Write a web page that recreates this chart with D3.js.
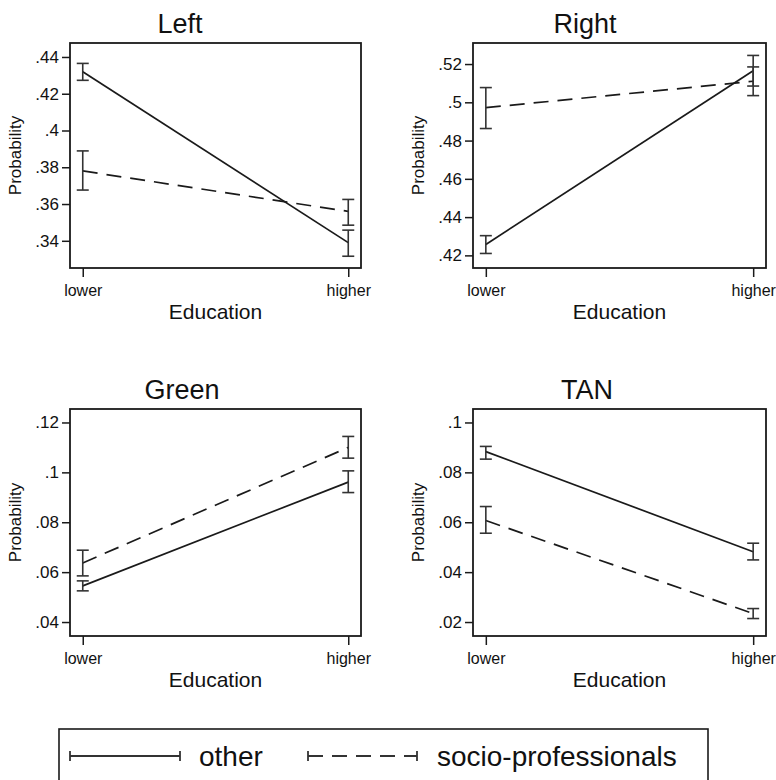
<!DOCTYPE html>
<html>
<head>
<meta charset="utf-8">
<script src="https://cdn.jsdelivr.net/npm/d3@7"></script>
<style>
  html, body { margin: 0; padding: 0; background: #fff; overflow: hidden; }
  svg { display: block; font-family: "Liberation Sans", Arial, Helvetica, sans-serif; }
</style>
</head>
<body>
<svg id="chart" width="776" height="780"></svg>
<script>
// ---- data ----
const parties = ["Left", "Right", "Green", "TAN"];
const education = ["lower", "higher"];
const seriesNames = ["other", "socio-professionals"];

const otherMean = [[0.432, 0.339], [0.4257, 0.5165], [0.0545, 0.0961], [0.0883, 0.0482]];
const otherLo   = [[0.4273, 0.3316], [0.421, 0.5085], [0.0525, 0.0919], [0.0853, 0.0449]];
const otherHi   = [[0.4365, 0.3458], [0.4303, 0.5245], [0.0565, 0.1006], [0.0904, 0.0516]];

const socioMean = [[0.378, 0.356], [0.4972, 0.511], [0.0637, 0.110], [0.0607, 0.0234]];
const socioLo   = [[0.3676, 0.3485], [0.4863, 0.5035], [0.0585, 0.1057], [0.0556, 0.0214]];
const socioHi   = [[0.3889, 0.3625], [0.5077, 0.5185], [0.0688, 0.1144], [0.0663, 0.0254]];

const yTicks = [
  [0.34, 0.36, 0.38, 0.40, 0.42, 0.44],
  [0.42, 0.44, 0.46, 0.48, 0.50, 0.52],
  [0.04, 0.06, 0.08, 0.10, 0.12],
  [0.02, 0.04, 0.06, 0.08, 0.10]
];
const yDomains = [[0.3252, 0.4476], [0.4134, 0.531], [0.0344, 0.1254], [0.0144, 0.1054]];

// ---- layout ----
const boxes = [
  { x: 70,  y: 43,  w: 291, h: 225, titleX: 180, labelX: 15 },
  { x: 473, y: 43,  w: 293, h: 225, titleX: 585, labelX: 418 },
  { x: 70,  y: 409, w: 291, h: 227, titleX: 182, labelX: 15 },
  { x: 473, y: 409, w: 293, h: 227, titleX: 587, labelX: 418 }
];

const svg = d3.select("#chart");
const ink = "#1a1a1a";
const dash = "15,9";
const fmt = d => String(+d.toFixed(2)).replace(/^0/, "");

parties.forEach((p, i) => {
  const b = boxes[i];
  const g = svg.append("g");
  const x = d3.scalePoint().domain(education).range([b.x, b.x + b.w]).padding(0.048);
  const y = d3.scaleLinear().domain(yDomains[i]).range([b.y + b.h, b.y]);

  // title
  g.append("text").attr("x", b.titleX).attr("y", b.y - 10)
    .attr("text-anchor", "middle").attr("font-size", 27).attr("fill", "#111").text(p);

  // y axis
  const ya = g.append("g").attr("transform", `translate(${b.x},0)`)
    .call(d3.axisLeft(y).tickValues(yTicks[i]).tickSize(8).tickPadding(3).tickFormat(fmt));
  ya.select(".domain").remove();
  ya.selectAll("line").attr("stroke", ink).attr("stroke-width", 1.5);
  ya.selectAll("text").attr("font-size", 17).attr("fill", "#111").attr("font-family", null);

  // x axis
  const xa = g.append("g").attr("transform", `translate(0,${b.y + b.h})`)
    .call(d3.axisBottom(x).tickSize(9).tickPadding(8));
  xa.select(".domain").remove();
  xa.selectAll("line").attr("stroke", ink).attr("stroke-width", 1.5);
  xa.selectAll("text").attr("font-size", 16).attr("fill", "#111").attr("font-family", null);

  // axis titles
  g.append("text").attr("transform", `translate(${b.labelX + 6},${b.y + b.h / 2}) rotate(-90)`)
    .attr("text-anchor", "middle").attr("font-size", 17).attr("fill", "#111").text("Probability");
  g.append("text").attr("x", b.x + b.w / 2).attr("y", b.y + b.h + 51)
    .attr("text-anchor", "middle").attr("font-size", 21).attr("fill", "#111").text("Education");

  // plot box
  g.append("rect").attr("x", b.x).attr("y", b.y).attr("width", b.w).attr("height", b.h)
    .attr("fill", "none").attr("stroke", ink).attr("stroke-width", 1.8);

  const series = [
    { mean: otherMean[i], lo: otherLo[i], hi: otherHi[i], dash: null },
    { mean: socioMean[i], lo: socioLo[i], hi: socioHi[i], dash: dash }
  ];
  const line = d3.line().x((d, j) => x(education[j])).y(d => y(d));

  series.forEach(s => {
    g.append("path").datum(s.mean).attr("d", line)
      .attr("fill", "none").attr("stroke", ink).attr("stroke-width", 1.7)
      .attr("stroke-dasharray", s.dash);
    education.forEach((e, j) => {
      const cx = x(e);
      const eb = g.append("g").attr("stroke", "#333").attr("stroke-width", 1.6);
      eb.append("line").attr("x1", cx).attr("x2", cx).attr("y1", y(s.lo[j])).attr("y2", y(s.hi[j]));
      eb.append("line").attr("x1", cx - 6).attr("x2", cx + 6).attr("y1", y(s.lo[j])).attr("y2", y(s.lo[j]));
      eb.append("line").attr("x1", cx - 6).attr("x2", cx + 6).attr("y1", y(s.hi[j])).attr("y2", y(s.hi[j]));
    });
  });
});

// ---- legend ----
const lg = svg.append("g");
lg.append("rect").attr("x", 59).attr("y", 729).attr("width", 649).attr("height", 80)
  .attr("fill", "none").attr("stroke", ink).attr("stroke-width", 1.6);
const legendItems = [
  { name: seriesNames[0], x0: 70, x1: 180, tx: 199, dash: null },
  { name: seriesNames[1], x0: 308, x1: 417, tx: 437, dash: dash }
];
legendItems.forEach(it => {
  const ly = 756;
  lg.append("line").attr("x1", it.x0).attr("x2", it.x1).attr("y1", ly).attr("y2", ly)
    .attr("stroke", "#333").attr("stroke-width", 1.8).attr("stroke-dasharray", it.dash);
  [it.x0, it.x1].forEach(cx => {
    lg.append("line").attr("x1", cx).attr("x2", cx).attr("y1", ly - 5).attr("y2", ly + 5)
      .attr("stroke", "#333").attr("stroke-width", 1.8);
  });
  lg.append("text").attr("x", it.tx).attr("y", ly + 10).attr("font-size", 28)
    .attr("fill", "#111").text(it.name);
});
</script>
</body>
</html>
